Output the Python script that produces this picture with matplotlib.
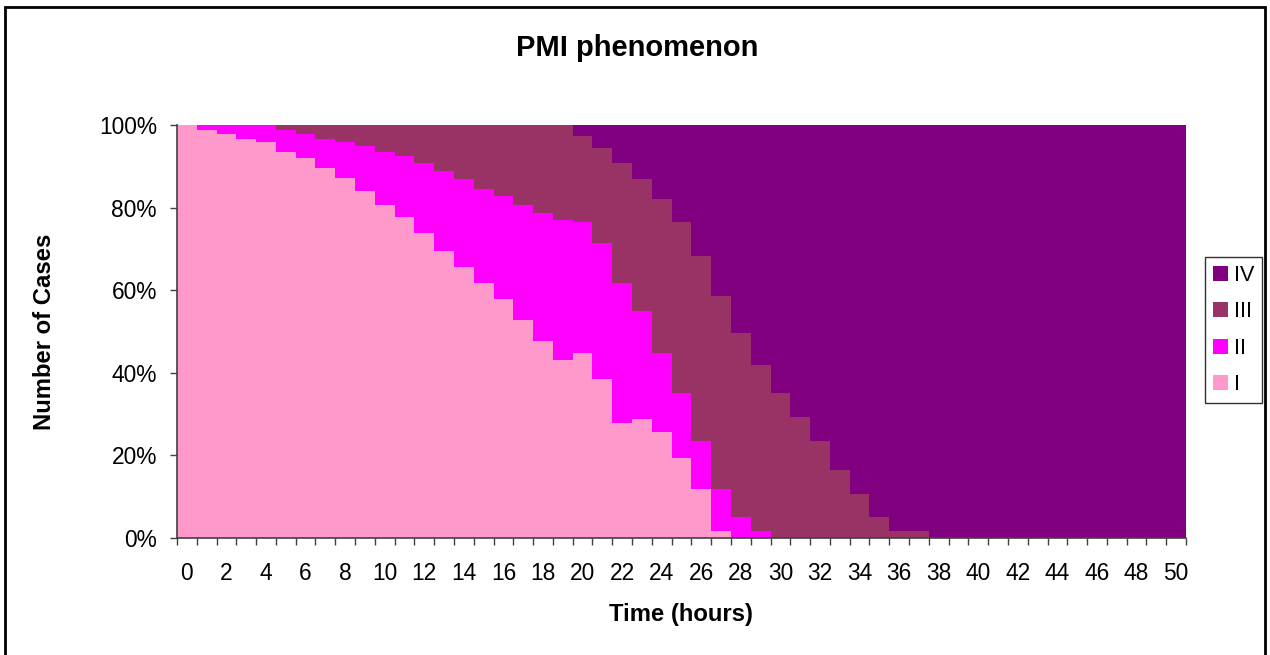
import numpy as np
import matplotlib
matplotlib.use("Agg")
import matplotlib.pyplot as plt
from matplotlib.patches import Rectangle
from matplotlib.ticker import FixedLocator, FuncFormatter

plt.rcParams['font.family'] = ['Liberation Sans', 'DejaVu Sans']

# hours 0..50
hours = list(range(51))

# percentage of cases in each stage
stage_i = [100, 98.9, 97.7, 96.7, 96.0, 93.5, 91.9, 89.7, 87.1, 83.9,
           80.7, 77.7, 73.8, 69.6, 65.5, 61.7, 57.8, 52.7, 47.8, 43.0,
           44.7, 38.4, 27.8, 28.8, 25.6, 19.4, 11.9, 1.6, 0, 0,
           0, 0, 0, 0, 0, 0, 0, 0, 0, 0,
           0, 0, 0, 0, 0, 0, 0, 0, 0, 0, 0]
stage_ii = [0, 1.1, 2.3, 3.3, 4.0, 5.4, 5.8, 7.0, 8.9, 11.1,
            12.8, 14.9, 17.1, 19.2, 21.5, 22.9, 25.1, 27.9, 31.0, 33.9,
            31.7, 33.0, 33.9, 26.1, 19.2, 15.7, 11.7, 10.3, 5.2, 1.6,
            0, 0, 0, 0, 0, 0, 0, 0, 0, 0,
            0, 0, 0, 0, 0, 0, 0, 0, 0, 0, 0]
stage_iii = [0, 0, 0, 0, 0, 1.1, 2.3, 3.3, 4.0, 5.0,
             6.5, 7.4, 9.1, 11.2, 13.0, 15.4, 17.1, 19.4, 21.2, 23.1,
             20.9, 23.1, 29.2, 32.1, 37.4, 41.3, 44.8, 46.6, 44.4, 40.4,
             35.1, 29.3, 23.4, 16.4, 10.6, 5.0, 1.6, 1.6, 0, 0,
             0, 0, 0, 0, 0, 0, 0, 0, 0, 0, 0]
stage_iv = [0, 0, 0, 0, 0, 0, 0, 0, 0, 0,
            0, 0, 0, 0, 0, 0, 0, 0, 0, 0,
            2.7, 5.5, 9.1, 13.0, 17.8, 23.6, 31.6, 41.5, 50.4, 58.0,
            64.9, 70.7, 76.6, 83.6, 89.4, 95.0, 98.4, 98.4, 100, 100,
            100, 100, 100, 100, 100, 100, 100, 100, 100, 100, 100]

labels = ['I', 'II', 'III', 'IV']
colors = ['#FF99CC', '#FF00FF', '#993366', '#800080']

W, H = 1270, 655
fig = plt.figure(figsize=(W / 100, H / 100), dpi=100)
ax = fig.add_axes([177 / W, 1 - 538 / H, (1186 - 177) / W, (538 - 125) / H])

x = np.array(hours)
bottom = np.zeros(len(hours))
handles = []
for vals, lab, col in zip([stage_i, stage_ii, stage_iii, stage_iv], labels, colors):
    vals = np.array(vals, dtype=float)
    b = ax.bar(x, vals, width=1.0, bottom=bottom, color=col, linewidth=0, label=lab)
    handles.append(b)
    bottom += vals

ax.set_xlim(-0.5, len(hours) - 0.5)
ax.set_ylim(0, 100)

# tick marks between categories, labels on every other hour
ax.xaxis.set_major_locator(FixedLocator(np.arange(-0.5, len(hours), 1.0)))
ax.xaxis.set_major_formatter(FuncFormatter(lambda v, p: ''))
ax.xaxis.set_minor_locator(FixedLocator(x[::2]))
ax.xaxis.set_minor_formatter(FuncFormatter(lambda v, p: '%d' % round(v)))
ax.tick_params(axis='x', which='major', direction='out', length=5, width=1, color='#404040')
ax.tick_params(axis='x', which='minor', length=0, pad=17, labelsize=16.4)

ax.set_yticks([0, 20, 40, 60, 80, 100])
ax.yaxis.set_major_formatter(FuncFormatter(lambda v, p: '%d%%' % v))
ax.tick_params(axis='y', direction='out', length=5, width=1, color='#404040',
               labelsize=16.4, pad=9.5)

for s in ['top', 'right']:
    ax.spines[s].set_visible(False)
for s in ['left', 'bottom']:
    ax.spines[s].set_color('#404040')
    ax.spines[s].set_linewidth(1.2)

fig.text(637 / W, 1 - 48 / H, 'PMI phenomenon', ha='center', va='center',
         fontsize=21, fontweight='bold')
fig.text(681 / W, 1 - 615 / H, 'Time (hours)', ha='center', va='center',
         fontsize=17.2, fontweight='bold')
fig.text(45 / W, 1 - 332 / H, 'Number of Cases', ha='center', va='center',
         rotation=90, fontsize=17.2, fontweight='bold')

leg = fig.legend(handles[::-1], labels[::-1], loc='center left',
                 bbox_to_anchor=(1205 / W, 1 - 330 / H), frameon=True,
                 fancybox=False, fontsize=15.5, handlelength=0.7, handleheight=0.7,
                 handletextpad=0.3, borderpad=0.35, labelspacing=0.72,
                 borderaxespad=0)
leg.get_frame().set_edgecolor('black')
leg.get_frame().set_linewidth(1)

# chart border
fig.patches.append(Rectangle((5 / W, -0.05), 1260 / W, 1.05 - 7 / H, fill=False,
                             edgecolor='black', linewidth=2,
                             transform=fig.transFigure, figure=fig))

fig.savefig('out.png', dpi=100)
